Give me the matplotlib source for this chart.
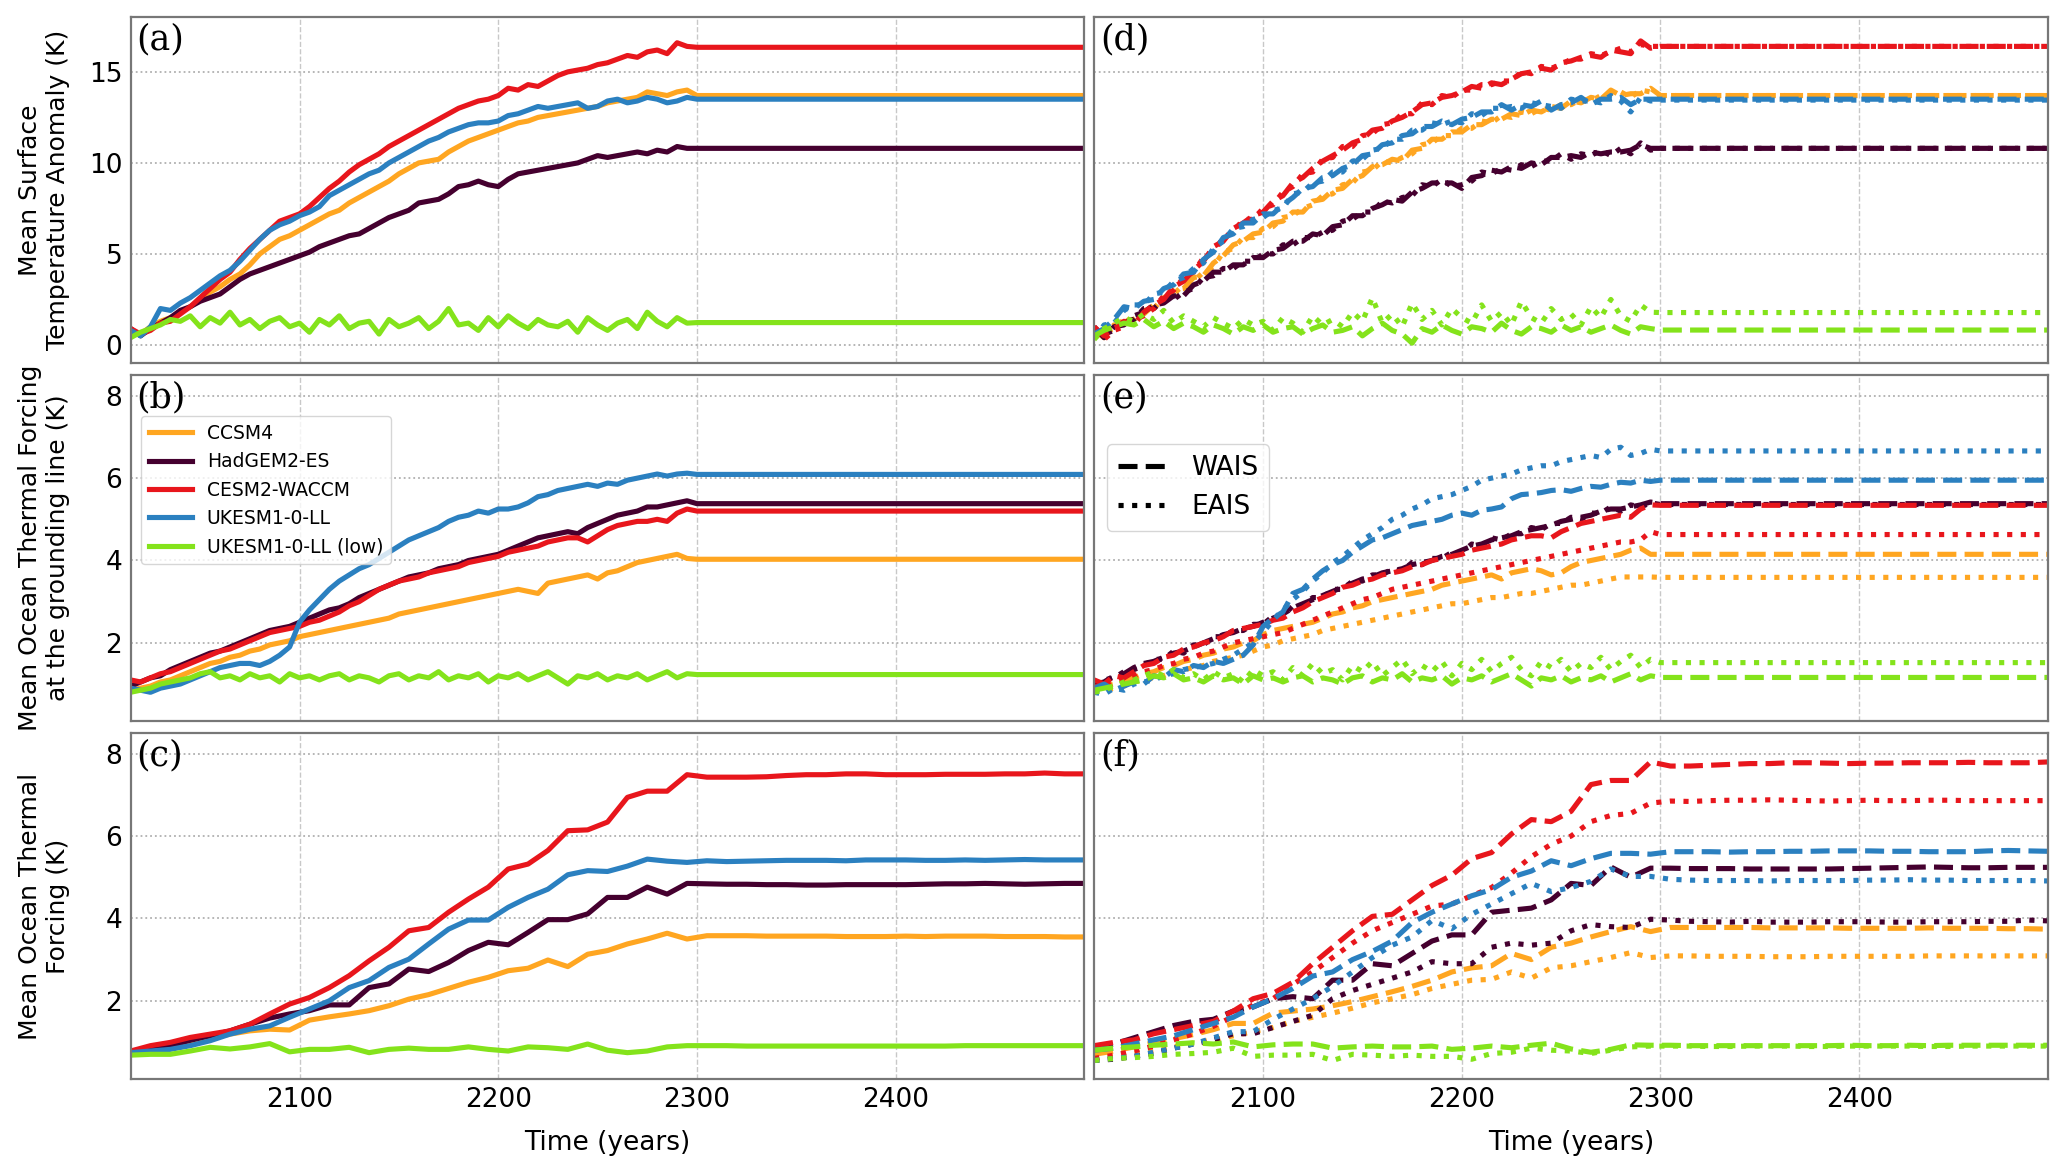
import numpy as np
import matplotlib
matplotlib.use('Agg')
import matplotlib.pyplot as plt
from matplotlib.lines import Line2D

# ---------------- data ----------------
models = ['CCSM4', 'HadGEM2-ES', 'CESM2-WACCM', 'UKESM1-0-LL', 'UKESM1-0-LL (low)']
colors = ['#ffa621', '#45002f', '#e8161c', '#2b80c0', '#84e31b']

yrs5 = np.arange(2015, 2301, 5)      # annual series, read every 5 years
yrs10 = np.arange(2015, 2496, 10)    # decadal series
x_end = 2495

# (a) surface temperature anomaly, 2015-2300
a_ccsm4 = [0.7, 0.6, 1.0, 1.3, 1.5, 1.8, 2.1, 2.5, 2.9, 3.2,
           3.6, 3.9, 4.4, 5.0, 5.4, 5.8, 6.0, 6.3, 6.6, 6.9,
           7.2, 7.4, 7.8, 8.1, 8.4, 8.7, 9.0, 9.4, 9.7, 10.0,
           10.1, 10.2, 10.6, 10.9, 11.2, 11.4, 11.6, 11.8, 12.0, 12.2,
           12.3, 12.5, 12.6, 12.7, 12.8, 12.9, 13.0, 13.1, 13.3, 13.4,
           13.5, 13.6, 13.9, 13.8, 13.7, 13.9, 14.0, 13.7]
a_hadgem = [0.9, 0.5, 0.9, 1.2, 1.5, 1.9, 2.1, 2.4, 2.6, 2.8,
            3.2, 3.6, 3.9, 4.1, 4.3, 4.5, 4.7, 4.9, 5.1, 5.4,
            5.6, 5.8, 6.0, 6.1, 6.4, 6.7, 7.0, 7.2, 7.4, 7.8,
            7.9, 8.0, 8.3, 8.7, 8.8, 9.0, 8.8, 8.7, 9.1, 9.4,
            9.5, 9.6, 9.7, 9.8, 9.9, 10.0, 10.2, 10.4, 10.3, 10.4,
            10.5, 10.6, 10.5, 10.7, 10.6, 10.9, 10.8, 10.8]
a_cesm2 = [0.9, 0.6, 0.8, 1.2, 1.3, 1.7, 2.1, 2.6, 3.1, 3.6,
           4.0, 4.7, 5.3, 5.8, 6.3, 6.8, 7.0, 7.2, 7.6, 8.1,
           8.6, 9.0, 9.5, 9.9, 10.2, 10.5, 10.9, 11.2, 11.5, 11.8,
           12.1, 12.4, 12.7, 13.0, 13.2, 13.4, 13.5, 13.7, 14.1, 14.0,
           14.3, 14.2, 14.5, 14.8, 15.0, 15.1, 15.2, 15.4, 15.5, 15.7,
           15.9, 15.8, 16.1, 16.2, 16.0, 16.6, 16.4, 16.35]
a_ukesm = [0.8, 0.5, 1.0, 2.0, 1.9, 2.3, 2.6, 3.0, 3.4, 3.8,
           4.1, 4.6, 5.2, 5.8, 6.3, 6.6, 6.8, 7.1, 7.3, 7.6,
           8.2, 8.5, 8.8, 9.1, 9.4, 9.6, 10.0, 10.3, 10.6, 10.9,
           11.2, 11.4, 11.7, 11.9, 12.1, 12.2, 12.2, 12.3, 12.6, 12.7,
           12.9, 13.1, 13.0, 13.1, 13.2, 13.3, 13.0, 13.1, 13.4, 13.5,
           13.3, 13.4, 13.6, 13.5, 13.3, 13.4, 13.6, 13.5]
a_ukesm_low = [0.4, 0.7, 0.9, 1.1, 1.4, 1.3, 1.6, 1.0, 1.5, 1.2,
               1.8, 1.1, 1.4, 0.9, 1.3, 1.5, 1.0, 1.2, 0.7, 1.4,
               1.1, 1.6, 0.9, 1.2, 1.3, 0.6, 1.4, 1.0, 1.2, 1.5,
               0.9, 1.3, 2.0, 1.1, 1.2, 0.8, 1.5, 1.0, 1.6, 1.2,
               0.9, 1.4, 1.1, 1.0, 1.3, 0.7, 1.5, 1.1, 0.8, 1.2,
               1.4, 0.9, 1.8, 1.3, 1.0, 1.5, 1.2, 1.23]

# (b) ocean thermal forcing at the grounding line, 2015-2300
b_ccsm4 = [0.85, 0.9, 0.95, 1.05, 1.1, 1.2, 1.3, 1.4, 1.5, 1.55,
           1.65, 1.7, 1.8, 1.85, 1.95, 2.0, 2.05, 2.15, 2.2, 2.25,
           2.3, 2.35, 2.4, 2.45, 2.5, 2.55, 2.6, 2.7, 2.75, 2.8,
           2.85, 2.9, 2.95, 3.0, 3.05, 3.1, 3.15, 3.2, 3.25, 3.3,
           3.25, 3.2, 3.45, 3.5, 3.55, 3.6, 3.65, 3.55, 3.7, 3.75,
           3.85, 3.95, 4.0, 4.05, 4.1, 4.15, 4.05, 4.03]
b_hadgem = [0.95, 1.05, 1.15, 1.2, 1.35, 1.45, 1.55, 1.65, 1.75, 1.8,
            1.9, 2.0, 2.1, 2.2, 2.3, 2.35, 2.4, 2.5, 2.6, 2.7,
            2.8, 2.85, 2.95, 3.1, 3.2, 3.3, 3.4, 3.5, 3.6, 3.65,
            3.7, 3.8, 3.85, 3.9, 4.0, 4.05, 4.1, 4.15, 4.25, 4.35,
            4.45, 4.55, 4.6, 4.65, 4.7, 4.65, 4.8, 4.9, 5.0, 5.1,
            5.15, 5.2, 5.3, 5.3, 5.35, 5.4, 5.45, 5.38]
b_cesm2 = [1.1, 1.05, 1.15, 1.25, 1.3, 1.4, 1.5, 1.6, 1.7, 1.8,
           1.85, 1.95, 2.05, 2.15, 2.25, 2.3, 2.35, 2.4, 2.5, 2.55,
           2.65, 2.75, 2.9, 3.0, 3.15, 3.3, 3.4, 3.5, 3.55, 3.6,
           3.7, 3.75, 3.8, 3.85, 3.95, 4.0, 4.05, 4.1, 4.2, 4.25,
           4.3, 4.35, 4.45, 4.5, 4.55, 4.55, 4.45, 4.6, 4.75, 4.85,
           4.9, 4.95, 4.95, 5.0, 4.95, 5.15, 5.25, 5.2]
b_ukesm = [0.9, 0.85, 0.8, 0.9, 0.95, 1.0, 1.1, 1.2, 1.3, 1.4,
           1.45, 1.5, 1.5, 1.45, 1.55, 1.7, 1.9, 2.5, 2.8, 3.05,
           3.3, 3.5, 3.65, 3.8, 3.9, 4.05, 4.2, 4.35, 4.5, 4.6,
           4.7, 4.8, 4.95, 5.05, 5.1, 5.2, 5.15, 5.25, 5.25, 5.3,
           5.4, 5.55, 5.6, 5.7, 5.75, 5.8, 5.85, 5.8, 5.88, 5.85,
           5.95, 6.0, 6.05, 6.1, 6.05, 6.1, 6.12, 6.09]
b_ukesm_low = [0.8, 0.85, 0.9, 1.0, 1.05, 1.1, 1.15, 1.25, 1.3, 1.15,
               1.2, 1.1, 1.25, 1.15, 1.2, 1.05, 1.25, 1.15, 1.2, 1.1,
               1.2, 1.25, 1.1, 1.2, 1.15, 1.05, 1.2, 1.25, 1.1, 1.2,
               1.15, 1.3, 1.1, 1.2, 1.15, 1.25, 1.05, 1.2, 1.15, 1.25,
               1.1, 1.2, 1.3, 1.15, 1.0, 1.2, 1.15, 1.25, 1.1, 1.2,
               1.15, 1.25, 1.1, 1.2, 1.3, 1.15, 1.25, 1.23]

# (c) ocean thermal forcing, decadal 2015-2495
c_ccsm4 = [0.74, 0.80, 0.87, 0.99, 1.09, 1.19, 1.27, 1.31, 1.29, 1.53,
           1.61, 1.68, 1.76, 1.88, 2.04, 2.15, 2.30, 2.45, 2.57, 2.73,
           2.79, 2.99, 2.83, 3.13, 3.22, 3.38, 3.50, 3.64, 3.50,
           3.58, 3.58, 3.58, 3.57, 3.57, 3.57, 3.57, 3.56, 3.56, 3.56,
           3.57, 3.56, 3.57, 3.57, 3.57, 3.56, 3.56, 3.56, 3.55, 3.55]
c_hadgem = [0.77, 0.82, 0.91, 1.04, 1.15, 1.27, 1.43, 1.58, 1.68, 1.76,
            1.90, 1.90, 2.32, 2.41, 2.77, 2.71, 2.93, 3.22, 3.42, 3.36,
            3.66, 3.97, 3.97, 4.11, 4.51, 4.51, 4.76, 4.59, 4.85,
            4.84, 4.83, 4.83, 4.82, 4.82, 4.81, 4.81, 4.82, 4.82, 4.82,
            4.82, 4.83, 4.84, 4.84, 4.85, 4.84, 4.83, 4.84, 4.85, 4.85]
c_cesm2 = [0.78, 0.91, 0.99, 1.11, 1.19, 1.27, 1.43, 1.68, 1.92, 2.08,
           2.32, 2.61, 2.97, 3.30, 3.70, 3.78, 4.15, 4.47, 4.76, 5.20,
           5.32, 5.65, 6.13, 6.15, 6.34, 6.94, 7.09, 7.09, 7.49,
           7.43, 7.43, 7.43, 7.44, 7.47, 7.49, 7.49, 7.51, 7.51, 7.49,
           7.49, 7.49, 7.50, 7.50, 7.50, 7.51, 7.51, 7.53, 7.51, 7.51]
c_ukesm = [0.74, 0.78, 0.82, 0.91, 1.03, 1.19, 1.31, 1.39, 1.60, 1.80,
           2.00, 2.32, 2.49, 2.81, 3.01, 3.38, 3.74, 3.96, 3.96, 4.27,
           4.51, 4.71, 5.06, 5.16, 5.14, 5.27, 5.44, 5.39, 5.36,
           5.40, 5.38, 5.39, 5.40, 5.41, 5.41, 5.41, 5.40, 5.42, 5.42,
           5.42, 5.41, 5.41, 5.42, 5.41, 5.42, 5.43, 5.42, 5.42, 5.42]
c_ukesm_low = [0.68, 0.70, 0.70, 0.78, 0.87, 0.83, 0.88, 0.96, 0.76, 0.82,
               0.82, 0.87, 0.74, 0.82, 0.85, 0.82, 0.82, 0.88, 0.82, 0.78,
               0.88, 0.86, 0.82, 0.95, 0.80, 0.74, 0.78, 0.88, 0.91,
               0.91, 0.91, 0.90, 0.90, 0.90, 0.90, 0.90, 0.90, 0.90, 0.90,
               0.90, 0.90, 0.90, 0.91, 0.91, 0.91, 0.91, 0.91, 0.91, 0.91]

# (d) surface temperature anomaly, WAIS / EAIS, 2015-2300
d_ccsm4_w = [0.8, 0.4, 1.1, 1.2, 1.6, 1.7, 2.2, 2.4, 3.0, 3.1,
             3.7, 3.8, 4.5, 4.9, 5.5, 5.7, 6.1, 6.2, 6.7, 6.8,
             7.3, 7.3, 7.9, 8.0, 8.5, 8.6, 9.1, 9.3, 9.8, 9.9,
             10.2, 10.1, 10.7, 10.8, 11.3, 11.3, 11.7, 11.7, 12.1, 12.1,
             12.4, 12.4, 12.7, 12.6, 12.9, 12.8, 13.1, 13.0, 13.4, 13.3,
             13.6, 13.5, 14.0, 13.7, 13.8, 13.8, 14.1, 13.7]
d_ccsm4_e = [0.6, 0.7, 0.9, 1.4, 1.4, 1.9, 2.0, 2.6, 2.8, 3.3,
             3.5, 4.0, 4.3, 5.1, 5.3, 5.9, 5.9, 6.4, 6.5, 7.0,
             7.1, 7.5, 7.7, 8.2, 8.3, 8.8, 8.9, 9.5, 9.6, 10.1,
             10.0, 10.3, 10.5, 11.0, 11.1, 11.5, 11.5, 11.9, 11.9, 12.3,
             12.2, 12.6, 12.5, 12.8, 12.7, 13.0, 12.9, 13.2, 13.2, 13.5,
             13.4, 13.7, 13.8, 13.9, 13.6, 14.0, 13.9, 13.7]
d_hadgem_w = [1.0, 0.4, 1.0, 1.1, 1.6, 1.8, 2.2, 2.3, 2.7, 2.7,
              3.3, 3.5, 4.0, 4.0, 4.4, 4.4, 4.8, 4.8, 5.2, 5.3,
              5.7, 5.7, 6.1, 6.0, 6.5, 6.6, 7.1, 7.1, 7.5, 7.7,
              8.0, 7.9, 8.4, 8.6, 8.9, 8.9, 8.9, 8.6, 9.2, 9.3,
              9.6, 9.5, 9.8, 9.7, 10.0, 9.9, 10.3, 10.3, 10.4, 10.3,
              10.6, 10.5, 10.6, 10.6, 10.7, 11.0, 10.8, 10.8]
d_hadgem_e = [0.8, 0.6, 0.8, 1.3, 1.4, 2.0, 2.0, 2.5, 2.5, 2.9,
              3.1, 3.7, 3.8, 4.2, 4.2, 4.6, 4.6, 5.0, 5.0, 5.5,
              5.5, 5.9, 5.9, 6.2, 6.3, 6.8, 6.9, 7.3, 7.3, 7.9,
              7.8, 8.1, 8.2, 8.8, 8.7, 9.1, 8.7, 8.8, 9.0, 9.5,
              9.4, 9.7, 9.6, 9.9, 9.8, 10.1, 10.1, 10.5, 10.2, 10.5,
              10.4, 10.7, 10.4, 10.8, 10.5, 11.1, 10.7, 10.8]
d_cesm2_w = [1.0, 0.5, 0.9, 1.3, 1.1, 1.8, 2.2, 2.5, 3.2, 3.5,
             4.1, 4.6, 5.4, 5.7, 6.4, 6.7, 7.1, 7.3, 7.9, 8.2,
             8.9, 9.2, 9.7, 10.1, 10.4, 10.7, 11.1, 11.3, 11.8, 11.9,
             12.3, 12.5, 12.8, 13.2, 13.3, 13.6, 13.7, 13.9, 14.2, 14.1,
             14.4, 14.3, 14.6, 14.9, 15.0, 15.2, 15.1, 15.5, 15.6, 15.8,
             15.9, 15.8, 16.2, 16.1, 16.0, 16.7, 16.3, 16.4]
d_cesm2_e = [0.7, 0.3, 0.8, 1.0, 1.4, 1.6, 2.0, 2.7, 3.0, 3.7,
             4.0, 4.8, 5.1, 5.9, 6.2, 6.9, 6.9, 7.5, 7.7, 8.4,
             8.7, 9.4, 9.5, 10.2, 10.3, 10.9, 10.9, 11.5, 11.6, 12.1,
             12.2, 12.7, 12.7, 13.3, 13.2, 13.7, 13.6, 14.0, 14.0, 14.3,
             14.3, 14.5, 14.5, 15.0, 14.9, 15.3, 15.2, 15.4, 15.7, 15.7,
             16.0, 15.9, 16.1, 16.3, 16.1, 16.5, 16.4, 16.4]
d_ukesm_w = [0.6, 0.9, 1.4, 2.1, 2.0, 2.4, 2.5, 3.1, 3.3, 3.9,
             4.0, 4.7, 5.1, 5.9, 6.1, 6.7, 6.7, 7.2, 7.2, 7.7,
             8.1, 8.6, 8.7, 9.2, 9.3, 9.7, 9.9, 10.4, 10.5, 11.0,
             11.1, 11.5, 11.6, 12.0, 12.0, 12.3, 12.1, 12.4, 12.5, 12.8,
             12.8, 13.2, 12.9, 13.2, 13.1, 13.4, 12.9, 13.2, 13.3, 13.6,
             13.2, 13.5, 13.5, 13.6, 13.2, 13.5, 13.5, 13.5]
d_ukesm_e = [0.4, 1.1, 1.2, 1.9, 2.2, 2.2, 2.8, 2.9, 3.5, 3.7,
             4.2, 4.5, 5.3, 5.7, 6.4, 6.5, 6.9, 7.0, 7.4, 7.5,
             8.3, 8.4, 8.9, 9.0, 9.5, 9.5, 10.1, 10.2, 10.7, 10.8,
             11.3, 11.3, 11.8, 11.8, 12.2, 12.1, 12.3, 12.2, 12.7, 12.6,
             13.0, 13.0, 13.1, 13.0, 13.3, 13.2, 13.1, 13.0, 13.5, 13.4,
             13.4, 13.3, 13.7, 13.4, 12.8, 13.6, 13.4, 13.45]
d_ukesm_low_w = [0.5, 0.8, 1.0, 1.2, 1.1, 1.4, 1.0, 1.3, 0.9, 1.2,
                 1.0, 0.7, 1.1, 0.9, 0.6, 1.0, 0.8, 1.1, 0.7, 0.9,
                 1.0, 0.6, 0.9, 1.1, 0.7, 0.8, 1.0, 0.5, 0.9, 1.2,
                 0.8, 0.6, 0.1, 0.9, 0.7, 1.1, 0.8, 0.6, 1.0, 0.9,
                 0.7, 1.2, 0.8, 0.6, 1.0, 0.9, 0.7, 1.1, 0.8, 1.0,
                 0.7, 0.9, 1.1, 0.8, 0.6, 1.0, 0.9, 0.82]
d_ukesm_low_e = [0.3, 0.9, 1.2, 1.5, 1.3, 1.7, 1.4, 1.9, 1.2, 1.6,
                 1.3, 1.0, 1.5, 1.2, 0.9, 1.4, 1.1, 1.3, 0.8, 1.5,
                 1.2, 0.7, 1.6, 1.1, 1.4, 1.0, 1.8, 1.3, 2.6, 1.2,
                 1.7, 1.0, 2.3, 1.4, 1.9, 1.1, 2.0, 1.5, 1.2, 2.2,
                 1.3, 1.8, 1.1, 2.4, 1.5, 1.2, 2.0, 1.4, 1.7, 1.1,
                 2.1, 1.5, 2.5, 1.6, 1.3, 2.2, 1.8, 1.78]

# (e) ocean thermal forcing at the grounding line, WAIS / EAIS, 2015-2300
e_ccsm4_w = [0.9, 0.95, 1.0, 1.1, 1.15, 1.25, 1.3, 1.4, 1.45, 1.55,
             1.6, 1.7, 1.75, 1.85, 1.9, 2.0, 2.05, 2.2, 2.3, 2.35,
             2.4, 2.45, 2.5, 2.6, 2.7, 2.75, 2.85, 2.9, 3.0, 3.05,
             3.1, 3.15, 3.2, 3.25, 3.3, 3.4, 3.45, 3.5, 3.55, 3.6,
             3.65, 3.55, 3.7, 3.75, 3.8, 3.75, 3.65, 3.7, 3.85, 3.95,
             4.0, 4.05, 4.1, 4.15, 4.25, 4.3, 4.15, 4.15]
e_ccsm4_e = [0.85, 0.85, 0.9, 0.95, 1.05, 1.1, 1.15, 1.2, 1.3, 1.35,
             1.4, 1.45, 1.55, 1.6, 1.65, 1.7, 1.8, 1.9, 1.95, 2.05,
             2.1, 2.15, 2.2, 2.3, 2.35, 2.4, 2.45, 2.5, 2.55, 2.6,
             2.65, 2.7, 2.75, 2.8, 2.85, 2.9, 2.95, 2.95, 3.0, 3.05,
             3.1, 3.1, 3.15, 3.2, 3.2, 3.25, 3.3, 3.35, 3.4, 3.4,
             3.45, 3.5, 3.55, 3.6, 3.6, 3.6, 3.6, 3.59]
e_hadgem_w = [1.0, 1.05, 1.2, 1.25, 1.4, 1.5, 1.55, 1.65, 1.75, 1.8,
              1.9, 2.0, 2.1, 2.2, 2.25, 2.35, 2.4, 2.5, 2.6, 2.7,
              2.85, 2.95, 3.05, 3.15, 3.25, 3.35, 3.45, 3.55, 3.6, 3.7,
              3.75, 3.8, 3.9, 3.95, 4.0, 4.1, 4.15, 4.25, 4.35, 4.4,
              4.5, 4.55, 4.6, 4.7, 4.75, 4.8, 4.85, 4.95, 5.0, 5.05,
              5.1, 5.2, 5.25, 5.25, 5.3, 5.35, 5.42, 5.38]
e_hadgem_e = [1.0, 1.1, 1.15, 1.3, 1.35, 1.45, 1.6, 1.6, 1.8, 1.75,
              1.95, 1.95, 2.15, 2.15, 2.3, 2.3, 2.45, 2.45, 2.65, 2.65,
              2.9, 2.9, 3.1, 3.1, 3.3, 3.3, 3.5, 3.5, 3.65, 3.65,
              3.8, 3.75, 3.95, 3.9, 4.05, 4.05, 4.2, 4.2, 4.4, 4.35,
              4.55, 4.5, 4.65, 4.65, 4.8, 4.75, 4.9, 4.9, 5.05, 5.0,
              5.15, 5.15, 5.3, 5.2, 5.35, 5.3, 5.4, 5.36]
e_cesm2_w = [1.1, 1.0, 1.2, 1.15, 1.3, 1.45, 1.5, 1.65, 1.7, 1.85,
             1.9, 2.0, 2.05, 2.15, 2.3, 2.35, 2.4, 2.45, 2.55, 2.6,
             2.75, 2.85, 3.0, 3.1, 3.2, 3.35, 3.4, 3.5, 3.55, 3.65,
             3.7, 3.75, 3.85, 3.9, 4.0, 4.05, 4.1, 4.15, 4.25, 4.3,
             4.35, 4.4, 4.5, 4.55, 4.6, 4.6, 4.55, 4.7, 4.8, 4.9,
             4.95, 5.0, 5.05, 5.1, 5.05, 5.25, 5.35, 5.34]
e_cesm2_e = [0.95, 0.9, 1.05, 1.1, 1.2, 1.3, 1.35, 1.45, 1.5, 1.6,
             1.65, 1.75, 1.8, 1.9, 2.0, 2.05, 2.1, 2.15, 2.2, 2.25,
             2.35, 2.45, 2.55, 2.65, 2.75, 2.85, 2.95, 3.05, 3.1, 3.2,
             3.3, 3.35, 3.4, 3.45, 3.5, 3.55, 3.6, 3.65, 3.7, 3.75,
             3.8, 3.85, 3.9, 3.95, 4.0, 4.05, 4.1, 4.15, 4.2, 4.25,
             4.3, 4.35, 4.4, 4.45, 4.45, 4.5, 4.7, 4.63]
e_ukesm_w = [0.9, 1.0, 0.85, 0.95, 1.05, 1.0, 1.2, 1.15, 1.35, 1.3,
             1.45, 1.4, 1.55, 1.5, 1.6, 1.7, 1.95, 2.4, 2.6, 2.75,
             3.2, 3.3, 3.55, 3.75, 3.9, 4.0, 4.2, 4.35, 4.5, 4.55,
             4.65, 4.75, 4.85, 4.9, 4.95, 5.0, 5.1, 5.15, 5.1, 5.22,
             5.25, 5.3, 5.5, 5.6, 5.62, 5.65, 5.7, 5.72, 5.68, 5.75,
             5.8, 5.78, 5.85, 5.9, 5.88, 5.95, 5.92, 5.95]
e_ukesm_e = [0.8, 0.75, 0.9, 0.85, 1.0, 1.05, 1.1, 1.2, 1.25, 1.35,
             1.4, 1.45, 1.5, 1.6, 1.7, 1.85, 2.0, 2.25, 2.55, 2.8,
             3.05, 3.25, 3.5, 3.7, 3.95, 4.1, 4.3, 4.5, 4.65, 4.8,
             5.0, 5.1, 5.25, 5.35, 5.5, 5.55, 5.6, 5.7, 5.8, 5.95,
             6.0, 6.05, 6.1, 6.2, 6.25, 6.3, 6.3, 6.4, 6.45, 6.5,
             6.55, 6.5, 6.7, 6.75, 6.55, 6.6, 6.7, 6.66]
e_ukesm_low_w = [0.85, 0.9, 0.95, 1.0, 1.05, 1.1, 1.2, 1.15, 1.25, 1.1,
                 1.15, 1.05, 1.2, 1.1, 1.15, 1.0, 1.2, 1.1, 1.15, 1.05,
                 1.15, 1.2, 1.05, 1.15, 1.1, 1.0, 1.15, 1.2, 1.05, 1.15,
                 1.1, 1.25, 1.05, 1.15, 1.1, 1.2, 1.0, 1.15, 1.1, 1.2,
                 1.05, 1.15, 1.25, 1.1, 0.95, 1.15, 1.1, 1.2, 1.05, 1.15,
                 1.1, 1.2, 1.05, 1.15, 1.25, 1.1, 1.2, 1.16]
e_ukesm_low_e = [0.8, 0.85, 0.95, 1.05, 1.1, 1.2, 1.3, 1.2, 1.35, 1.15,
                 1.25, 1.1, 1.3, 1.15, 1.25, 1.05, 1.35, 1.2, 1.3, 1.1,
                 1.4, 1.2, 1.5, 1.25, 1.35, 1.1, 1.45, 1.3, 1.55, 1.2,
                 1.4, 1.6, 1.25, 1.45, 1.3, 1.55, 1.2, 1.5, 1.35, 1.6,
                 1.3, 1.5, 1.65, 1.35, 1.2, 1.55, 1.4, 1.6, 1.3, 1.5,
                 1.4, 1.65, 1.35, 1.55, 1.7, 1.4, 1.6, 1.52]

# (f) ocean thermal forcing, WAIS / EAIS, decadal 2015-2495
f_ccsm4_w = [0.70, 0.78, 0.88, 0.98, 1.08, 1.18, 1.30, 1.45, 1.45, 1.70,
             1.75, 1.80, 1.88, 1.98, 2.10, 2.22, 2.35, 2.50, 2.70, 2.80,
             2.85, 3.15, 3.00, 3.30, 3.40, 3.55, 3.68, 3.80, 3.68,
             3.78, 3.78, 3.78, 3.78, 3.78, 3.77, 3.77, 3.77, 3.77, 3.76,
             3.76, 3.76, 3.76, 3.77, 3.76, 3.76, 3.76, 3.75, 3.75, 3.74]
f_ccsm4_e = [0.60, 0.65, 0.72, 0.80, 0.88, 0.98, 1.05, 1.15, 1.25, 1.35,
             1.50, 1.60, 1.70, 1.82, 1.95, 2.05, 2.15, 2.30, 2.40, 2.50,
             2.52, 2.70, 2.55, 2.80, 2.85, 2.95, 3.05, 3.17, 3.05,
             3.09, 3.09, 3.08, 3.08, 3.08, 3.07, 3.07, 3.07, 3.08, 3.08,
             3.08, 3.08, 3.08, 3.09, 3.09, 3.09, 3.09, 3.09, 3.09, 3.09]
f_hadgem_w = [0.85, 0.95, 1.10, 1.25, 1.40, 1.50, 1.55, 1.75, 1.85, 2.05,
              2.10, 2.05, 2.50, 2.50, 2.90, 2.85, 3.15, 3.45, 3.60, 3.60,
              4.15, 4.20, 4.25, 4.45, 4.85, 4.80, 5.25, 5.00, 5.22,
              5.22, 5.21, 5.21, 5.21, 5.20, 5.20, 5.20, 5.20, 5.20, 5.21,
              5.22, 5.23, 5.24, 5.25, 5.24, 5.23, 5.23, 5.24, 5.24, 5.24]
f_hadgem_e = [0.55, 0.58, 0.65, 0.72, 0.85, 0.95, 1.05, 1.20, 1.20, 1.35,
              1.50, 1.65, 2.05, 2.25, 2.40, 2.55, 2.70, 2.95, 2.90, 2.90,
              3.30, 3.40, 3.35, 3.40, 3.70, 3.85, 3.80, 3.78, 3.98,
              3.96, 3.93, 3.92, 3.91, 3.93, 3.91, 3.91, 3.91, 3.92, 3.92,
              3.92, 3.91, 3.91, 3.92, 3.92, 3.92, 3.93, 3.93, 3.96, 3.94]
f_cesm2_w = [0.91, 0.99, 1.05, 1.20, 1.30, 1.40, 1.50, 1.75, 2.05, 2.18,
             2.45, 2.90, 3.30, 3.70, 4.05, 4.10, 4.45, 4.80, 5.05, 5.45,
             5.60, 6.05, 6.40, 6.35, 6.60, 7.25, 7.35, 7.35, 7.80,
             7.70, 7.70, 7.72, 7.74, 7.76, 7.76, 7.78, 7.78, 7.77, 7.76,
             7.77, 7.77, 7.78, 7.78, 7.78, 7.79, 7.78, 7.78, 7.78, 7.80]
f_cesm2_e = [0.60, 0.68, 0.78, 0.90, 1.05, 1.20, 1.38, 1.62, 1.90, 2.05,
             2.40, 2.70, 3.05, 3.40, 3.70, 3.90, 4.10, 4.30, 4.35, 4.55,
             4.75, 5.10, 5.50, 5.80, 6.00, 6.35, 6.50, 6.55, 6.80,
             6.85, 6.84, 6.86, 6.87, 6.87, 6.88, 6.87, 6.86, 6.85, 6.86,
             6.87, 6.86, 6.86, 6.87, 6.87, 6.86, 6.86, 6.86, 6.86, 6.86]
f_ukesm_w = [0.80, 0.85, 0.95, 1.05, 1.15, 1.30, 1.45, 1.60, 1.85, 2.05,
             2.30, 2.60, 2.70, 3.00, 3.20, 3.45, 3.90, 4.15, 4.35, 4.55,
             4.70, 5.00, 5.15, 5.40, 5.28, 5.45, 5.58, 5.58, 5.56,
             5.62, 5.62, 5.62, 5.61, 5.62, 5.62, 5.63, 5.63, 5.64, 5.64,
             5.64, 5.63, 5.63, 5.62, 5.62, 5.62, 5.64, 5.65, 5.64, 5.63]
f_ukesm_e = [0.55, 0.60, 0.65, 0.75, 0.85, 0.95, 1.10, 1.25, 1.25, 1.55,
             1.80, 2.05, 2.35, 2.70, 3.05, 3.35, 3.55, 3.95, 3.75, 4.10,
             4.35, 4.60, 4.85, 4.65, 4.75, 4.90, 5.20, 5.02, 5.02,
             4.95, 4.93, 4.92, 4.92, 4.92, 4.91, 4.92, 4.92, 4.92, 4.92,
             4.93, 4.93, 4.94, 4.93, 4.93, 4.92, 4.92, 4.92, 4.92, 4.91]
f_ukesm_low_w = [0.80, 0.85, 0.88, 0.92, 0.95, 0.98, 0.95, 1.00, 0.88, 0.93,
                 0.95, 0.95, 0.85, 0.88, 0.90, 0.88, 0.88, 0.90, 0.82, 0.85,
                 0.90, 0.86, 0.92, 0.97, 0.83, 0.75, 0.82, 0.93, 0.92,
                 0.92, 0.91, 0.91, 0.91, 0.91, 0.91, 0.91, 0.91, 0.91, 0.92,
                 0.91, 0.91, 0.92, 0.91, 0.92, 0.92, 0.92, 0.92, 0.92, 0.92]
f_ukesm_low_e = [0.55, 0.60, 0.62, 0.65, 0.70, 0.72, 0.75, 0.85, 0.65, 0.68,
                 0.68, 0.70, 0.55, 0.70, 0.68, 0.65, 0.68, 0.65, 0.65, 0.58,
                 0.72, 0.75, 0.85, 0.80, 0.78, 0.72, 0.80, 0.88, 0.90,
                 0.90, 0.90, 0.89, 0.89, 0.90, 0.90, 0.90, 0.89, 0.89, 0.90,
                 0.90, 0.90, 0.90, 0.89, 0.89, 0.90, 0.90, 0.90, 0.90, 0.90]

ylabels = ['Mean Surface\nTemperature Anomaly (K)',
           'Mean Ocean Thermal Forcing\nat the grounding line (K)',
           'Mean Ocean Thermal\nForcing (K)']
panel_tags = ['(a)', '(b)', '(c)', '(d)', '(e)', '(f)']

# ---------------- figure ----------------
LW = 3.7
fig, axes = plt.subplots(3, 2, figsize=(20.67, 11.74), dpi=100)
fig.subplots_adjust(left=0.0632, right=0.9908, top=0.9853, bottom=0.0809,
                    wspace=0.0102, hspace=0.0347)


def held(v):
    # annual run to 2300, then held at the last value
    return np.append(yrs5, x_end), np.append(v, v[-1])


left_a = [a_ccsm4, a_hadgem, a_cesm2, a_ukesm, a_ukesm_low]
left_b = [b_ccsm4, b_hadgem, b_cesm2, b_ukesm, b_ukesm_low]
left_c = [c_ccsm4, c_hadgem, c_cesm2, c_ukesm, c_ukesm_low]
right_d = [(d_ccsm4_w, d_ccsm4_e), (d_hadgem_w, d_hadgem_e), (d_cesm2_w, d_cesm2_e),
           (d_ukesm_w, d_ukesm_e), (d_ukesm_low_w, d_ukesm_low_e)]
right_e = [(e_ccsm4_w, e_ccsm4_e), (e_hadgem_w, e_hadgem_e), (e_cesm2_w, e_cesm2_e),
           (e_ukesm_w, e_ukesm_e), (e_ukesm_low_w, e_ukesm_low_e)]
right_f = [(f_ccsm4_w, f_ccsm4_e), (f_hadgem_w, f_hadgem_e), (f_cesm2_w, f_cesm2_e),
           (f_ukesm_w, f_ukesm_e), (f_ukesm_low_w, f_ukesm_low_e)]

for i in range(5):
    axes[0, 0].plot(*held(left_a[i]), color=colors[i], lw=LW, label=models[i])
    axes[1, 0].plot(*held(left_b[i]), color=colors[i], lw=LW, label=models[i])
    axes[2, 0].plot(yrs10, left_c[i], color=colors[i], lw=LW, label=models[i])

    w, e = right_d[i]
    axes[0, 1].plot(*held(w), color=colors[i], lw=LW, ls='--')
    axes[0, 1].plot(*held(e), color=colors[i], lw=LW, ls=':')
    w, e = right_e[i]
    axes[1, 1].plot(*held(w), color=colors[i], lw=LW, ls='--')
    axes[1, 1].plot(*held(e), color=colors[i], lw=LW, ls=':')
    w, e = right_f[i]
    axes[2, 1].plot(yrs10, w, color=colors[i], lw=LW, ls='--')
    axes[2, 1].plot(yrs10, e, color=colors[i], lw=LW, ls=':')

for r in range(3):
    for c in range(2):
        ax = axes[r, c]
        ax.set_xlim(2015, x_end)
        if r == 0:
            ax.set_ylim(-1, 18)
            ax.set_yticks([0, 5, 10, 15])
        else:
            ax.set_ylim(0.1, 8.5)
            ax.set_yticks([2, 4, 6, 8])
        ax.set_xticks([2100, 2200, 2300, 2400])
        ax.grid(axis='x', ls='--', color='#c8c8c8', lw=1.0)
        ax.grid(axis='y', ls=':', color='#b0b0b0', lw=1.3)
        ax.set_axisbelow(True)
        for sp in ax.spines.values():
            sp.set_color('#777777')
            sp.set_linewidth(1.6)
        ax.tick_params(length=0, labelsize=19, pad=6)
        if r < 2:
            ax.tick_params(labelbottom=False)
        else:
            ax.set_xlabel('Time (years)', fontsize=19, labelpad=12)
        if c == 1:
            ax.tick_params(labelleft=False)
        else:
            ax.set_ylabel(ylabels[r], fontsize=18)
            ax.yaxis.set_label_coords(-0.064, 0.5)
        ax.text(0.006, 0.985, panel_tags[c * 3 + r], transform=ax.transAxes,
                ha='left', va='top', fontsize=25, family='DejaVu Serif')

axes[1, 0].legend(loc='upper left', bbox_to_anchor=(0.011, 0.881), borderaxespad=0,
                  fontsize=13.5, labelspacing=0.5, handlelength=2.3)

style_handles = [Line2D([], [], color='black', lw=LW, ls='--'),
                 Line2D([], [], color='black', lw=LW, ls=':')]
axes[1, 1].legend(style_handles, ['WAIS', 'EAIS'], loc='upper left',
                  bbox_to_anchor=(0.0136, 0.80), borderaxespad=0,
                  fontsize=19, handlelength=2.0)

fig.savefig('out.png', dpi=100)
